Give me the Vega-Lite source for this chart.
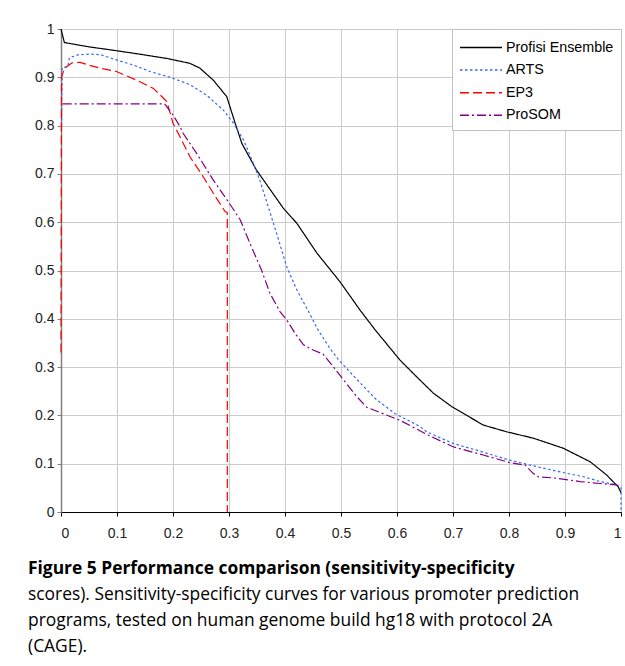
{
  "$schema": "https://vega.github.io/schema/vega-lite/v6.json",
  "autosize": "none",
  "width": 560,
  "height": 483,
  "padding": {"left": 61, "top": 29, "right": 4, "bottom": 154},
  "background": "white",
  "title": {
    "text": ["Figure 5 Performance comparison (sensitivity-specificity"],
    "subtitle": ["scores). Sensitivity-specificity curves for various promoter prediction", "programs, tested on human genome build hg18 with protocol 2A", "(CAGE)."],
    "orient": "bottom",
    "anchor": "start",
    "frame": "group",
    "dx": -33,
    "offset": 20,
    "font": "Open Sans",
    "fontSize": 17.4,
    "fontWeight": "bold",
    "color": "black",
    "lineHeight": 26,
    "subtitleFont": "Open Sans",
    "subtitleFontSize": 17.4,
    "subtitleFontWeight": "normal",
    "subtitleColor": "black",
    "subtitleLineHeight": 26,
    "subtitlePadding": 9
  },
  "data": {
    "values": [
      {"program": "Profisi Ensemble", "x": 0, "y": 1},
      {"program": "Profisi Ensemble", "x": 0.006, "y": 0.972},
      {"program": "Profisi Ensemble", "x": 0.05, "y": 0.963},
      {"program": "Profisi Ensemble", "x": 0.0875, "y": 0.957},
      {"program": "Profisi Ensemble", "x": 0.14, "y": 0.948},
      {"program": "Profisi Ensemble", "x": 0.189, "y": 0.939},
      {"program": "Profisi Ensemble", "x": 0.23, "y": 0.929},
      {"program": "Profisi Ensemble", "x": 0.248, "y": 0.919},
      {"program": "Profisi Ensemble", "x": 0.272, "y": 0.894},
      {"program": "Profisi Ensemble", "x": 0.296, "y": 0.86},
      {"program": "Profisi Ensemble", "x": 0.311, "y": 0.805},
      {"program": "Profisi Ensemble", "x": 0.323, "y": 0.763},
      {"program": "Profisi Ensemble", "x": 0.349, "y": 0.708},
      {"program": "Profisi Ensemble", "x": 0.397, "y": 0.629},
      {"program": "Profisi Ensemble", "x": 0.421, "y": 0.598},
      {"program": "Profisi Ensemble", "x": 0.457, "y": 0.536},
      {"program": "Profisi Ensemble", "x": 0.498, "y": 0.477},
      {"program": "Profisi Ensemble", "x": 0.534, "y": 0.418},
      {"program": "Profisi Ensemble", "x": 0.561, "y": 0.377},
      {"program": "Profisi Ensemble", "x": 0.605, "y": 0.315},
      {"program": "Profisi Ensemble", "x": 0.635, "y": 0.28},
      {"program": "Profisi Ensemble", "x": 0.665, "y": 0.246},
      {"program": "Profisi Ensemble", "x": 0.698, "y": 0.218},
      {"program": "Profisi Ensemble", "x": 0.754, "y": 0.18},
      {"program": "Profisi Ensemble", "x": 0.796, "y": 0.166},
      {"program": "Profisi Ensemble", "x": 0.843, "y": 0.153},
      {"program": "Profisi Ensemble", "x": 0.897, "y": 0.132},
      {"program": "Profisi Ensemble", "x": 0.945, "y": 0.104},
      {"program": "Profisi Ensemble", "x": 0.974, "y": 0.077},
      {"program": "Profisi Ensemble", "x": 0.995, "y": 0.052},
      {"program": "Profisi Ensemble", "x": 1, "y": 0.04},

      {"program": "ARTS", "x": 0.001, "y": 0.8},
      {"program": "ARTS", "x": 0.002, "y": 0.92},
      {"program": "ARTS", "x": 0.012, "y": 0.922},
      {"program": "ARTS", "x": 0.015, "y": 0.94},
      {"program": "ARTS", "x": 0.028, "y": 0.946},
      {"program": "ARTS", "x": 0.05, "y": 0.948},
      {"program": "ARTS", "x": 0.07, "y": 0.947},
      {"program": "ARTS", "x": 0.099, "y": 0.936},
      {"program": "ARTS", "x": 0.13, "y": 0.925},
      {"program": "ARTS", "x": 0.159, "y": 0.912},
      {"program": "ARTS", "x": 0.195, "y": 0.9},
      {"program": "ARTS", "x": 0.23, "y": 0.885},
      {"program": "ARTS", "x": 0.26, "y": 0.863},
      {"program": "ARTS", "x": 0.29, "y": 0.832},
      {"program": "ARTS", "x": 0.308, "y": 0.805},
      {"program": "ARTS", "x": 0.326, "y": 0.77},
      {"program": "ARTS", "x": 0.341, "y": 0.729},
      {"program": "ARTS", "x": 0.355, "y": 0.687},
      {"program": "ARTS", "x": 0.37, "y": 0.632},
      {"program": "ARTS", "x": 0.385, "y": 0.577},
      {"program": "ARTS", "x": 0.403, "y": 0.508},
      {"program": "ARTS", "x": 0.421, "y": 0.46},
      {"program": "ARTS", "x": 0.442, "y": 0.415},
      {"program": "ARTS", "x": 0.459, "y": 0.377},
      {"program": "ARTS", "x": 0.48, "y": 0.339},
      {"program": "ARTS", "x": 0.495, "y": 0.316},
      {"program": "ARTS", "x": 0.528, "y": 0.275},
      {"program": "ARTS", "x": 0.561, "y": 0.235},
      {"program": "ARTS", "x": 0.596, "y": 0.204},
      {"program": "ARTS", "x": 0.641, "y": 0.177},
      {"program": "ARTS", "x": 0.653, "y": 0.166},
      {"program": "ARTS", "x": 0.7, "y": 0.142},
      {"program": "ARTS", "x": 0.742, "y": 0.128},
      {"program": "ARTS", "x": 0.796, "y": 0.109},
      {"program": "ARTS", "x": 0.838, "y": 0.097},
      {"program": "ARTS", "x": 0.891, "y": 0.083},
      {"program": "ARTS", "x": 0.933, "y": 0.073},
      {"program": "ARTS", "x": 0.963, "y": 0.063},
      {"program": "ARTS", "x": 0.992, "y": 0.056},
      {"program": "ARTS", "x": 1, "y": 0.05},
      {"program": "ARTS", "x": 1, "y": 0},

      {"program": "EP3", "x": 0, "y": 0.33},
      {"program": "EP3", "x": 0.001, "y": 0.9},
      {"program": "EP3", "x": 0.005, "y": 0.915},
      {"program": "EP3", "x": 0.01, "y": 0.922},
      {"program": "EP3", "x": 0.02, "y": 0.93},
      {"program": "EP3", "x": 0.034, "y": 0.931},
      {"program": "EP3", "x": 0.05, "y": 0.925},
      {"program": "EP3", "x": 0.07, "y": 0.919},
      {"program": "EP3", "x": 0.099, "y": 0.912},
      {"program": "EP3", "x": 0.135, "y": 0.894},
      {"program": "EP3", "x": 0.165, "y": 0.877},
      {"program": "EP3", "x": 0.189, "y": 0.85},
      {"program": "EP3", "x": 0.2, "y": 0.805},
      {"program": "EP3", "x": 0.2125, "y": 0.777},
      {"program": "EP3", "x": 0.23, "y": 0.736},
      {"program": "EP3", "x": 0.254, "y": 0.694},
      {"program": "EP3", "x": 0.272, "y": 0.66},
      {"program": "EP3", "x": 0.293, "y": 0.622},
      {"program": "EP3", "x": 0.297, "y": 0.62},
      {"program": "EP3", "x": 0.297, "y": 0},

      {"program": "ProSOM", "x": 0.003, "y": 0.845},
      {"program": "ProSOM", "x": 0.05, "y": 0.845},
      {"program": "ProSOM", "x": 0.1, "y": 0.845},
      {"program": "ProSOM", "x": 0.15, "y": 0.845},
      {"program": "ProSOM", "x": 0.185, "y": 0.845},
      {"program": "ProSOM", "x": 0.2, "y": 0.822},
      {"program": "ProSOM", "x": 0.2125, "y": 0.798},
      {"program": "ProSOM", "x": 0.218, "y": 0.784},
      {"program": "ProSOM", "x": 0.242, "y": 0.743},
      {"program": "ProSOM", "x": 0.272, "y": 0.687},
      {"program": "ProSOM", "x": 0.299, "y": 0.642},
      {"program": "ProSOM", "x": 0.32, "y": 0.605},
      {"program": "ProSOM", "x": 0.3375, "y": 0.556},
      {"program": "ProSOM", "x": 0.358, "y": 0.501},
      {"program": "ProSOM", "x": 0.373, "y": 0.453},
      {"program": "ProSOM", "x": 0.391, "y": 0.415},
      {"program": "ProSOM", "x": 0.403, "y": 0.398},
      {"program": "ProSOM", "x": 0.418, "y": 0.37},
      {"program": "ProSOM", "x": 0.433, "y": 0.346},
      {"program": "ProSOM", "x": 0.451, "y": 0.335},
      {"program": "ProSOM", "x": 0.468, "y": 0.327},
      {"program": "ProSOM", "x": 0.486, "y": 0.301},
      {"program": "ProSOM", "x": 0.507, "y": 0.27},
      {"program": "ProSOM", "x": 0.528, "y": 0.239},
      {"program": "ProSOM", "x": 0.546, "y": 0.217},
      {"program": "ProSOM", "x": 0.576, "y": 0.203},
      {"program": "ProSOM", "x": 0.605, "y": 0.19},
      {"program": "ProSOM", "x": 0.656, "y": 0.159},
      {"program": "ProSOM", "x": 0.7, "y": 0.135},
      {"program": "ProSOM", "x": 0.754, "y": 0.118},
      {"program": "ProSOM", "x": 0.802, "y": 0.102},
      {"program": "ProSOM", "x": 0.829, "y": 0.097},
      {"program": "ProSOM", "x": 0.843, "y": 0.08},
      {"program": "ProSOM", "x": 0.852, "y": 0.073},
      {"program": "ProSOM", "x": 0.885, "y": 0.07},
      {"program": "ProSOM", "x": 0.927, "y": 0.063},
      {"program": "ProSOM", "x": 0.963, "y": 0.059},
      {"program": "ProSOM", "x": 0.992, "y": 0.056},
      {"program": "ProSOM", "x": 1, "y": 0.052}
    ]
  },
  "mark": {"type": "line", "strokeWidth": 1.2, "clip": false},
  "encoding": {
    "x": {
      "field": "x", "type": "quantitative",
      "scale": {"domain": [0, 1], "nice": false},
      "axis": {
        "title": null,
        "values": [0, 0.1, 0.2, 0.3, 0.4, 0.5, 0.6, 0.7, 0.8, 0.9, 1],
        "format": "~g",
        "domainColor": "black",
        "domainWidth": 1.2,
        "tickColor": "black",
        "tickSize": 4,
        "labelPadding": 10,
        "labelFont": "Liberation Sans",
        "labelFontSize": 14,
        "labelColor": "#222222",
        "gridColor": "#cccccc",
        "gridWidth": 1
      }
    },
    "y": {
      "field": "y", "type": "quantitative",
      "scale": {"domain": [0, 1], "nice": false},
      "axis": {
        "title": null,
        "values": [0, 0.1, 0.2, 0.3, 0.4, 0.5, 0.6, 0.7, 0.8, 0.9, 1],
        "format": "~g",
        "domainColor": "#808080",
        "domainWidth": 1.5,
        "tickColor": "#808080",
        "tickSize": 4,
        "labelPadding": 3,
        "labelFont": "Liberation Sans",
        "labelFontSize": 14,
        "labelColor": "#222222",
        "gridColor": "#cccccc",
        "gridWidth": 1
      }
    },
    "color": {
      "field": "program", "type": "nominal",
      "scale": {
        "domain": ["Profisi Ensemble", "ARTS", "EP3", "ProSOM"],
        "range": ["#000000", "#3366ff", "#ff0000", "#800080"]
      },
      "legend": {
        "title": null,
        "orient": "top-right",
        "offset": 0,
        "padding": 7,
        "strokeColor": "#c0c0c0",
        "fillColor": "white",
        "symbolType": "M-2,0L2,0",
        "symbolSize": 441,
        "symbolStrokeWidth": 1.5,
        "symbolOffset": 10.5,
        "labelFont": "Liberation Sans",
        "labelFontSize": 14.3,
        "labelColor": "black",
        "labelOffset": 13.5,
        "rowPadding": 3.6
      }
    },
    "strokeDash": {
      "field": "program", "type": "nominal",
      "scale": {
        "domain": ["Profisi Ensemble", "ARTS", "EP3", "ProSOM"],
        "range": [[1, 0], [2.5, 2.5], [9, 4], [9, 3, 2, 3]]
      },
      "legend": null
    },
    "order": {"value": null}
  }
}
